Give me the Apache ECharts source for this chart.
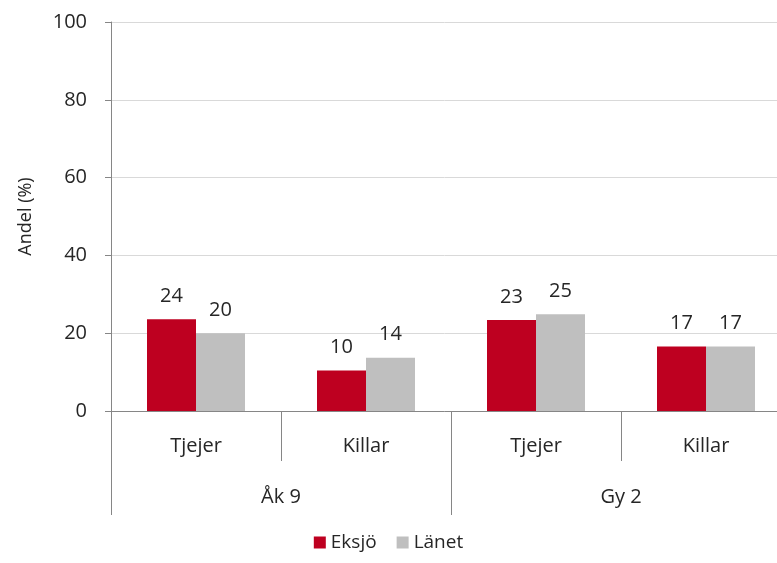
<!DOCTYPE html>
<html>
<head>
<meta charset="utf-8">
<script src="https://cdn.jsdelivr.net/npm/echarts@6/dist/echarts.min.js"></script>
<style>
  html, body { margin: 0; padding: 0; background: #fff; }
  #chart { width: 777px; height: 563px; }
</style>
</head>
<body>
<div id="chart"></div>
<script>
// kön per årskurs
var categories = ['Tjejer', 'Killar', 'Tjejer', 'Killar'];
var groups = ['Åk 9', 'Gy 2'];
var eksjo = [23.6, 10.4, 23.4, 16.6];
var lanet = [20.0, 13.7, 24.9, 16.6];
var yTicks = [0, 20, 40, 60, 80, 100];

var font = '"Open Sans", "Liberation Sans", sans-serif';
var textColor = '#262626';

var chart = echarts.init(document.getElementById('chart'));
var barLabel = {
    show: true,
    position: 'top',
    distance: 13,
    fontSize: 20,
    color: textColor,
    fontFamily: font,
    formatter: function (p) { return Math.round(p.value); }
};
var option = {
    animation: false,
    textStyle: { fontFamily: font },
    // plot area runs past the right edge of the picture
    grid: { left: 111, top: 22, bottom: 152, width: 680, outerBoundsMode: 'none', containLabel: false },
    legend: {
        bottom: 6,
        left: 'center',
        icon: 'rect',
        itemWidth: 12,
        itemHeight: 12,
        itemGap: 20,
        textStyle: { fontFamily: font, fontSize: 19, color: textColor },
        data: ['Eksjö', 'Länet']
    },
    xAxis: [
        {
            type: 'category',
            data: categories,
            axisLine: { lineStyle: { color: '#868686', width: 1 } },
            axisTick: { show: true, interval: 0, length: 50, lineStyle: { color: '#868686' } },
            axisLabel: { interval: 0, margin: 25, fontSize: 20, color: textColor, fontFamily: font }
        },
        {
            type: 'category',
            data: groups,
            position: 'bottom',
            axisLine: { show: false },
            axisTick: { show: true, interval: 0, length: 104, lineStyle: { color: '#868686' } },
            axisLabel: { interval: 0, margin: 76, fontSize: 20, color: textColor, fontFamily: font }
        }
    ],
    yAxis: {
        type: 'value',
        min: yTicks[0],
        max: yTicks[yTicks.length - 1],
        interval: 20,
        name: 'Andel (%)',
        nameLocation: 'middle',
        nameGap: 76,
        nameTextStyle: { fontSize: 18, color: textColor, fontFamily: font },
        axisLine: { show: true, lineStyle: { color: '#868686' } },
        axisTick: { show: true, length: 6, lineStyle: { color: '#868686' } },
        axisLabel: { margin: 24, fontSize: 20, color: textColor, fontFamily: font },
        splitLine: { lineStyle: { color: '#d9d9d9' } }
    },
    series: [
        {
            name: 'Eksjö',
            type: 'bar',
            xAxisIndex: 0,
            data: eksjo,
            barWidth: 49,
            barGap: '0%',
            itemStyle: { color: '#be0020' },
            label: barLabel
        },
        {
            name: 'Länet',
            type: 'bar',
            xAxisIndex: 0,
            data: lanet,
            barWidth: 49,
            barGap: '0%',
            itemStyle: { color: '#bfbfbf' },
            label: barLabel
        }
    ]
};
chart.setOption(option);
</script>
</body>
</html>
